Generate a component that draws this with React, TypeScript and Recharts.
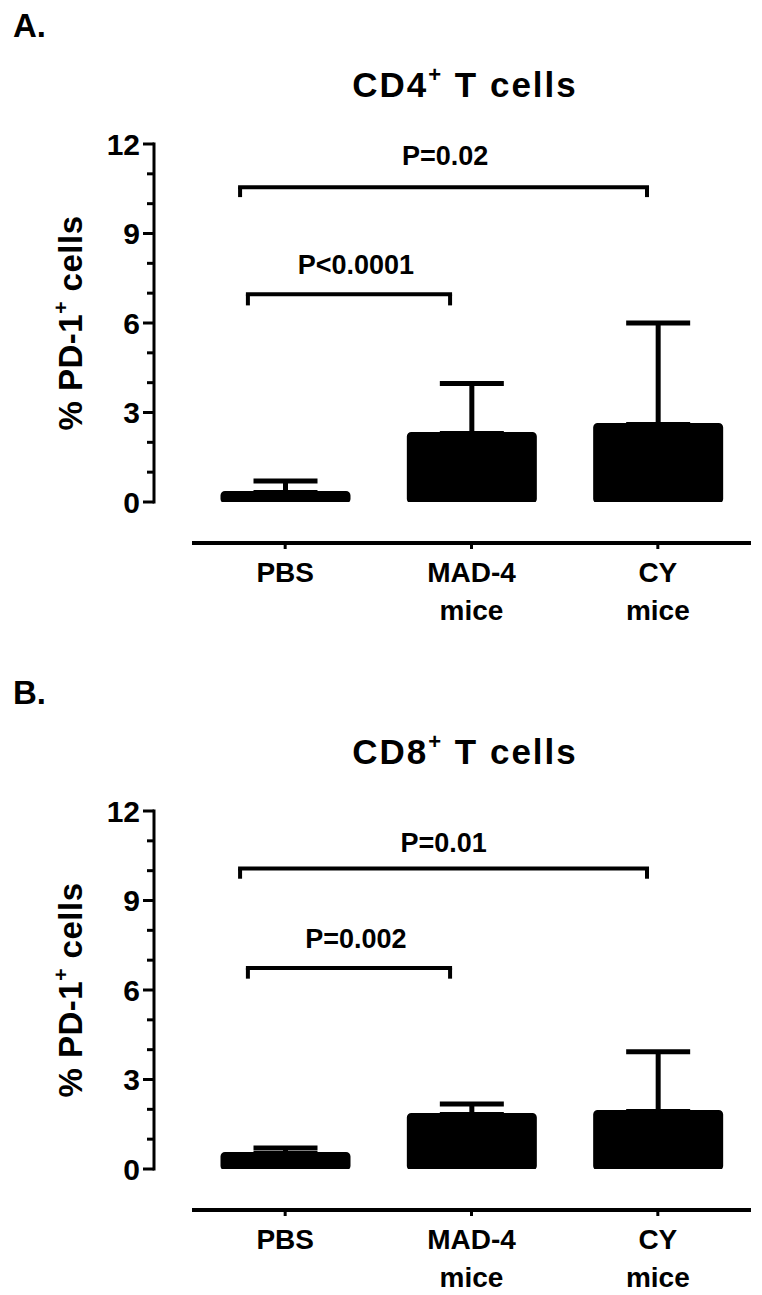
import React from 'react';
import { BarChart, Bar, XAxis, YAxis, ErrorBar, ReferenceLine, ReferenceDot, Label } from 'recharts';

const FONT = "'Liberation Sans', Arial, Helvetica, sans-serif";

const categories = ['PBS', 'MAD-4 mice', 'CY mice'];

// % PD-1+ cells, mean and upper SEM
const cd4Mean = [0.32, 2.3, 2.6];
const cd4Sem = [0.38, 1.67, 3.4];
const cd8Mean = [0.52, 1.83, 1.93];
const cd8Sem = [0.18, 0.35, 2.0];

const yTicks = [0, 1, 2, 3, 4, 5, 6, 7, 8, 9, 10, 11, 12];

// significance brackets (x in category index units: 0 = PBS, 1 = MAD-4, 2 = CY)
const cd4Brackets = [
  { x1: -0.2, x2: 0.885, y: 6.96, leg: 6.59, text: 'P<0.0001', tx: 0.38, ty: 7.98 },
  { x1: -0.242, x2: 1.942, y: 10.55, leg: 10.22, text: 'P=0.02', tx: 0.858, ty: 11.61 },
];
const cd8Brackets = [
  { x1: -0.2, x2: 0.885, y: 6.74, leg: 6.38, text: 'P=0.002', tx: 0.38, ty: 7.73 },
  { x1: -0.242, x2: 1.942, y: 10.07, leg: 9.73, text: 'P=0.01', tx: 0.85, ty: 10.95 },
];

const AXIS_DROP = -1.378; // x axis sits below zero (offset axes)
const PAD_LEFT = 38;
const HALF_BAND = 93.17;

const YTick = (props: any) => {
  const { x, y, payload } = props;
  const major = payload.value % 3 === 0;
  return (
    <g>
      <line x1={x - (major ? 11 : 7)} x2={x} y1={y} y2={y} stroke="#000" strokeWidth={3} />
      {major && (
        <text x={x - 14} y={y} dy="0.36em" textAnchor="end" fontFamily={FONT} fontWeight="bold" fontSize={30} fill="#000">
          {payload.value}
        </text>
      )}
    </g>
  );
};

const XTick = (props: any) => {
  const { x, y, payload } = props;
  const parts = String(payload.value).split(' ');
  return (
    <g>
      <line x1={x} x2={x} y1={y + 41} y2={y + 47} stroke="#000" strokeWidth={3} />
      {parts.map((p, i) => (
        <text key={i} x={x} y={y + 80 + i * 38} textAnchor="middle" fontFamily={FONT} fontWeight="bold" fontSize={28} fill="#000">
          {p}
        </text>
      ))}
    </g>
  );
};

const YLabel = (props: any) => {
  const { viewBox } = props;
  const cy = viewBox.y + viewBox.height / 2;
  const cx = 70;
  return (
    <text x={cx} y={cy} transform={`rotate(-90 ${cx} ${cy})`} textAnchor="middle" dy="0.36em" fontFamily={FONT} fontWeight="bold" fontSize={33} letterSpacing={0.5} fill="#000">
      % PD-1
      <tspan fontSize={21} dy={-14}>+</tspan>
      <tspan dy={14}>{'  cells'}</tspan>
    </text>
  );
};

function Panel({ top, letter, cell, means, sems, brackets }: any) {
  const data = categories.map((name, i) => ({ name, mean: means[i], err: [0, sems[i]] }));
  return (
    <div style={{ position: 'absolute', left: 0, top, width: 762, height: 632 }}>
      <svg width={762} height={140} style={{ position: 'absolute', left: 0, top: 0 }}>
        <text x={13} y={37} fontFamily={FONT} fontWeight="bold" fontSize={33} fill="#000">{letter}</text>
        <text x={465} y={97} textAnchor="middle" fontFamily={FONT} fontWeight="bold" fontSize={35} letterSpacing={2} fill="#000">
          {cell}
          <tspan fontSize={22} dy={-15}>+</tspan>
          <tspan dy={15}> T cells</tspan>
        </text>
      </svg>
      <div style={{ position: 'absolute', left: 0, top: 0 }}>
        <BarChart width={762} height={632} data={data} margin={{ top: 144, right: 11, bottom: 0, left: 0 }}>
          <XAxis
            dataKey="name"
            height={130}
            padding={{ left: PAD_LEFT, right: 0 }}
            axisLine={false}
            tickLine={false}
            tickSize={0}
            tickMargin={0}
            interval={0}
            tick={<XTick />}
          />
          <XAxis
            xAxisId="n"
            type="number"
            domain={[0, 2]}
            allowDataOverflow
            hide
            padding={{ left: PAD_LEFT + HALF_BAND, right: HALF_BAND }}
          />
          <YAxis
            type="number"
            domain={[0, 12]}
            ticks={yTicks}
            interval={0}
            width={154}
            allowDataOverflow
            tickLine={false}
            tickSize={0}
            tickMargin={0}
            axisLine={{ stroke: '#000', strokeWidth: 3, strokeLinecap: 'square' }}
            tick={<YTick />}
          >
            <Label content={<YLabel />} />
          </YAxis>
          <Bar dataKey="mean" fill="#000" stroke="#000" strokeWidth={3} radius={3} barSize={127} isAnimationActive={false}>
            <ErrorBar dataKey="err" direction="y" width={32} stroke="#000" strokeWidth={5} isAnimationActive={false} />
          </Bar>
          <ReferenceLine
            xAxisId="n"
            segment={[{ x: -0.5, y: AXIS_DROP }, { x: 2.5, y: AXIS_DROP }]}
            stroke="#000"
            strokeWidth={4}
            ifOverflow="visible"
          />
          {brackets.map((b: any, i: number) => (
            <React.Fragment key={i}>
              <ReferenceLine xAxisId="n" segment={[{ x: b.x1, y: b.y }, { x: b.x2, y: b.y }]} stroke="#000" strokeWidth={4} strokeLinecap="square" ifOverflow="visible" />
              <ReferenceLine xAxisId="n" segment={[{ x: b.x1, y: b.y }, { x: b.x1, y: b.leg }]} stroke="#000" strokeWidth={4} ifOverflow="visible" />
              <ReferenceLine xAxisId="n" segment={[{ x: b.x2, y: b.y }, { x: b.x2, y: b.leg }]} stroke="#000" strokeWidth={4} ifOverflow="visible" />
              <ReferenceDot
                xAxisId="n"
                x={b.tx}
                y={b.ty}
                r={1}
                fill="none"
                stroke="none"
                ifOverflow="visible"
                label={{ value: b.text, position: 'center', fontFamily: FONT, fontWeight: 'bold', fontSize: 27, fill: '#000' }}
              />
            </React.Fragment>
          ))}
        </BarChart>
      </div>
    </div>
  );
}

export default function App() {
  return (
    <div style={{ position: 'absolute', left: 0, top: 0, width: 762, height: 1295, background: '#fff' }}>
      <Panel top={0} letter="A." cell="CD4" means={cd4Mean} sems={cd4Sem} brackets={cd4Brackets} />
      <Panel top={667} letter="B." cell="CD8" means={cd8Mean} sems={cd8Sem} brackets={cd8Brackets} />
    </div>
  );
}
